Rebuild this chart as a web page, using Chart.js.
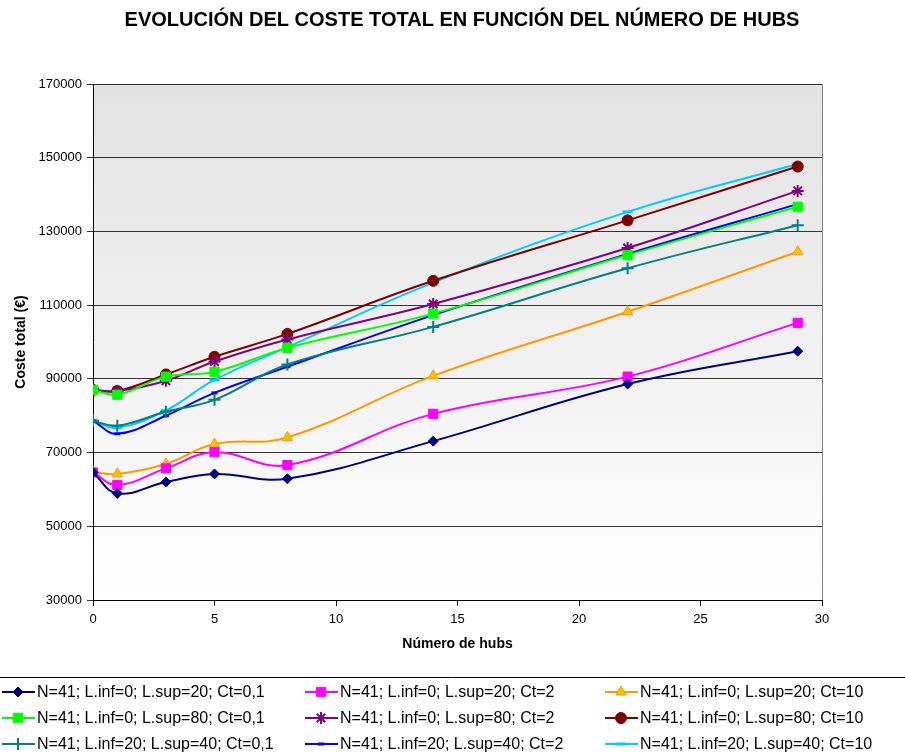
<!DOCTYPE html>
<html>
<head>
<meta charset="utf-8">
<script src="https://cdn.jsdelivr.net/npm/chart.js@4.4.0/dist/chart.umd.min.js"></script>
<style>
  body { margin: 0; background: #fff; }
  #wrap { width: 905px; height: 756px; }
</style>
</head>
<body>
<div id="wrap"><canvas id="c" width="905" height="756"></canvas></div>
<script>
// numero de hubs (eje x)
let hubs = [0, 1, 3, 5, 8, 14, 22, 29];

let labels = [
  'N=41; L.inf=0; L.sup=20; Ct=0,1', 'N=41; L.inf=0; L.sup=20; Ct=2', 'N=41; L.inf=0; L.sup=20; Ct=10',
  'N=41; L.inf=0; L.sup=80; Ct=0,1', 'N=41; L.inf=0; L.sup=80; Ct=2', 'N=41; L.inf=0; L.sup=80; Ct=10',
  'N=41; L.inf=20; L.sup=40; Ct=0,1', 'N=41; L.inf=20; L.sup=40; Ct=2', 'N=41; L.inf=20; L.sup=40; Ct=10'
];

// coste total (€) por serie
let sup20ct01 = [64600, 58900, 62000, 64200, 62900, 73100, 88600, 97500];
let sup20ct2  = [64600, 61200, 65700, 70100, 66600, 80500, 90600, 105200];
let sup20ct10 = [64700, 64200, 66900, 72300, 74100, 90800, 108200, 124500];
let sup80ct01 = [87000, 85700, 90600, 91900, 98400, 107700, 123600, 136700];
let sup80ct2  = [87000, 86700, 89500, 94700, 100700, 110300, 125500, 141000];
let sup80ct10 = [87000, 86700, 91200, 96000, 102200, 116600, 133000, 147600];
let inf20ct01 = [78600, 77300, 81100, 84300, 93900, 104100, 120000, 131700];
let inf20ct2  = [78600, 75100, 80000, 86200, 93300, 107300, 123900, 137400];
let inf20ct10 = [78600, 76700, 81400, 89700, 98600, 116100, 135300, 148300];

let yTicks = [30000, 50000, 70000, 90000, 110000, 130000, 150000, 170000];

let fontFam = 'Arial, "Liberation Sans"';

function pts(arr) {
  return arr.map(function(v, i) { return { x: hubs[i], y: v }; });
}

function serie(i, data, color, style, radius, fill, bw) {
  return {
    label: labels[i],
    data: pts(data),
    borderColor: color,
    borderWidth: 2,
    pointStyle: style,
    pointRadius: radius,
    pointHoverRadius: radius,
    pointBackgroundColor: fill || color,
    pointBorderColor: color,
    pointBorderWidth: bw || 1,
    tension: 0.4,
    fill: false
  };
}

let datasets = [
  serie(0, sup20ct01, '#000080', 'rectRot', 5),
  serie(1, sup20ct2, '#FF00FF', 'rect', 6.5),
  serie(2, sup20ct10, '#FF9900', 'triangle', 6, '#FFC000'),
  serie(3, sup80ct01, '#00FF00', 'rect', 6.5),
  serie(4, sup80ct2, '#800080', 'star', 6, null, 2),
  serie(5, sup80ct10, '#800000', 'circle', 5.5),
  serie(6, inf20ct01, '#008080', 'cross', 6, null, 2),
  serie(7, inf20ct2, '#0000FF', 'line', 3, null, 3),
  serie(8, inf20ct10, '#00CCFF', 'line', 5, null, 3)
];

let bgPlugin = {
  id: 'bg',
  beforeDraw: function(chart) {
    let a = chart.chartArea, ctx = chart.ctx;
    let g = ctx.createLinearGradient(0, a.top, 0, a.bottom);
    g.addColorStop(0, '#e2e2e2');
    g.addColorStop(1, '#ffffff');
    ctx.save();
    ctx.fillStyle = g;
    ctx.fillRect(a.left, a.top, a.right - a.left, a.bottom - a.top);
    ctx.strokeStyle = '#808080';
    ctx.lineWidth = 1;
    ctx.beginPath();
    ctx.moveTo(a.right + 0.5, a.top);
    ctx.lineTo(a.right + 0.5, a.bottom);
    ctx.stroke();
    // titulo
    ctx.fillStyle = '#000';
    ctx.font = 'bold 20px ' + fontFam;
    ctx.textAlign = 'center';
    ctx.textBaseline = 'middle';
    ctx.fillText('EVOLUCIÓN DEL COSTE TOTAL EN FUNCIÓN DEL NÚMERO DE HUBS', 462, 20);
    ctx.restore();
  },
  afterDraw: function(chart) {
    let ctx = chart.ctx;
    ctx.save();
    ctx.strokeStyle = '#000';
    ctx.lineWidth = 1;
    ctx.beginPath();
    ctx.moveTo(0, 677.5);
    ctx.lineTo(905, 677.5);
    ctx.stroke();
    let colX = [2, 305, 605];
    let rowY = [692, 718, 744];
    chart.data.datasets.forEach(function(ds, i) {
      let x = colX[i % 3], y = rowY[Math.floor(i / 3)];
      ctx.strokeStyle = ds.borderColor;
      ctx.lineWidth = 2;
      ctx.beginPath();
      ctx.moveTo(x, y);
      ctx.lineTo(x + 33, y);
      ctx.stroke();
      ctx.fillStyle = ds.pointBackgroundColor;
      ctx.strokeStyle = ds.pointBorderColor;
      ctx.lineWidth = ds.pointBorderWidth;
      Chart.helpers.drawPoint(ctx, {
        pointStyle: ds.pointStyle,
        radius: ds.pointRadius,
        rotation: 0,
        borderWidth: ds.pointBorderWidth
      }, x + 16, y);
      ctx.fillStyle = '#000';
      ctx.font = '16px ' + fontFam;
      ctx.textAlign = 'left';
      ctx.textBaseline = 'middle';
      ctx.fillText(ds.label, x + 35, y + 1);
    });
    ctx.restore();
  }
};

new Chart(document.getElementById('c'), {
  type: 'line',
  data: { datasets: datasets },
  plugins: [bgPlugin],
  options: {
    responsive: false,
    animation: false,
    layout: { padding: { top: 84, right: 83, bottom: 96, left: 0 } },
    plugins: {
      legend: { display: false },
      title: { display: false },
      tooltip: { enabled: false }
    },
    scales: {
      x: {
        type: 'linear',
        min: 0,
        max: 30,
        ticks: { stepSize: 5, color: '#000', font: { size: 13, family: fontFam }, padding: 6 },
        grid: { display: true, drawOnChartArea: false, drawTicks: true, tickLength: 6, color: '#000' },
        border: { color: '#000', width: 1 },
        title: { display: true, text: 'Número de hubs', color: '#000', font: { size: 14, weight: 'bold', family: fontFam }, padding: { bottom: 7 } },
        afterFit: function(s) { s.height = 60; }
      },
      y: {
        min: 30000,
        max: 170000,
        afterBuildTicks: function(s) { s.ticks = yTicks.map(function(v) { return { value: v }; }); },
        ticks: {
          color: '#000',
          font: { size: 13, family: fontFam },
          padding: 5,
          callback: function(v) { return String(v); }
        },
        grid: { color: '#333', lineWidth: 1, tickLength: 6 },
        border: { color: '#000', width: 1 },
        title: { display: true, text: 'Coste total (€)', color: '#000', font: { size: 14, weight: 'bold', family: fontFam }, padding: { top: 13 } },
        afterFit: function(s) { s.width = 93; }
      }
    }
  }
});
</script>
</body>
</html>
